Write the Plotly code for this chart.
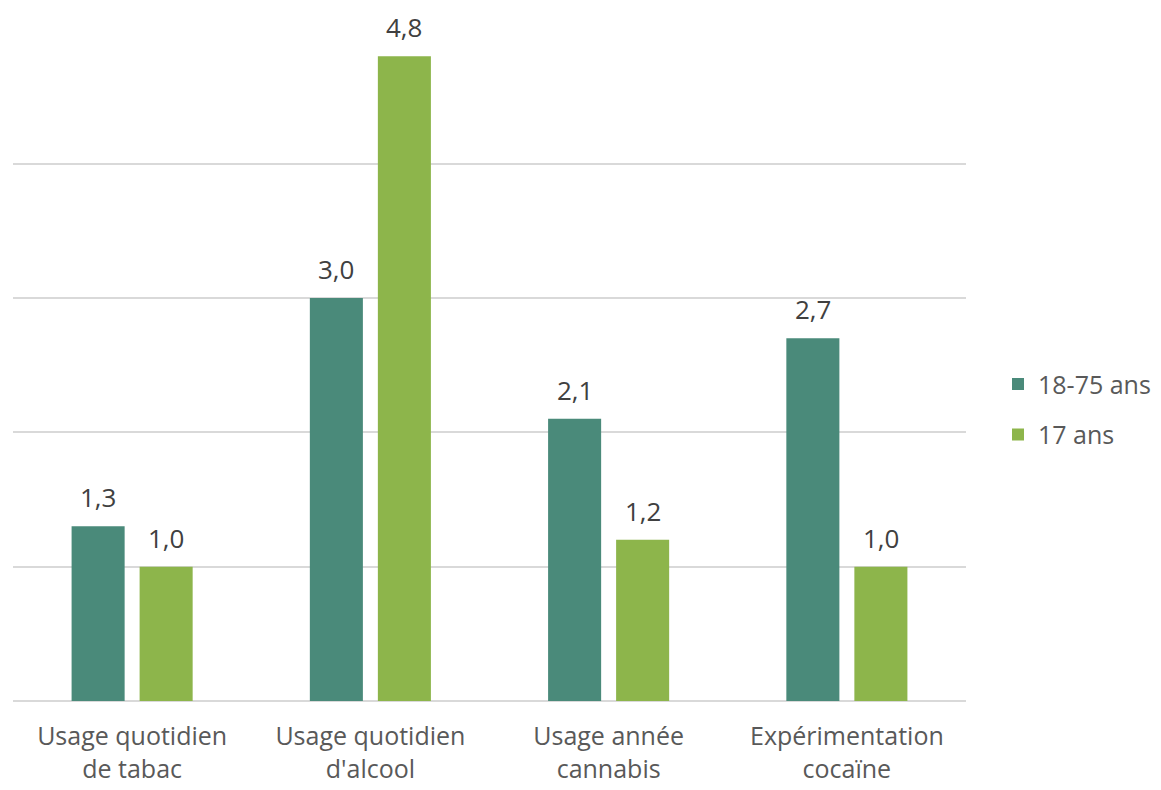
import plotly.graph_objects as go

categories = ["Usage quotidien<br>de tabac", "Usage quotidien<br>d'alcool", "Usage année<br>cannabis", "Expérimentation<br>cocaïne"]
series_names = ["18-75 ans", "17 ans"]
adults = [1.3, 3.0, 2.1, 2.7]
youth = [1.0, 4.8, 1.2, 1.0]
colors = ["#4A8A7A", "#8DB54B"]

font_family = "'Open Sans', Lato, sans-serif"

fig = go.Figure()
for name, vals, col in zip(series_names, [adults, youth], colors):
    fig.add_trace(go.Bar(
        x=categories, y=vals, name=name, marker_color=col,
        marker_line_width=0, legendgroup=name,
    ))

# data labels as annotations placed on the bar tops
shifts = [-34, 34]
for vals, dx in zip([adults, youth], shifts):
    for cat, v in zip(categories, vals):
        fig.add_annotation(
            x=cat, y=v, xshift=dx, yshift=9, yanchor="bottom", showarrow=False,
            text=f"{v:.1f}".replace(".", ","),
            font=dict(size=26, color="#404040", family=font_family),
        )

fig.update_layout(
    width=1161, height=790,
    margin=dict(l=13, r=195, t=29, b=89),
    paper_bgcolor="white", plot_bgcolor="white",
    barmode="group", bargap=0.429, bargroupgap=0.22,
    font=dict(family=font_family, size=25, color="#595959"),
    showlegend=True,
    legend=dict(xref="container", yref="container", x=998 / 1161, y=0.482,
                xanchor="left", yanchor="middle",
                font=dict(size=25, color="#595959"),
                tracegroupgap=15, itemwidth=30),
)
fig.update_yaxes(range=[0, 5.002], dtick=1, showticklabels=False, gridcolor="#D9D9D9",
                 gridwidth=1.5, zeroline=True, zerolinecolor="#D9D9D9", zerolinewidth=1.5,
                 showline=False)
fig.update_xaxes(showline=False, ticks="", tickfont=dict(size=25, color="#595959"),
                 ticklabelstandoff=18, automargin=False)

fig.write_html("out.html")
